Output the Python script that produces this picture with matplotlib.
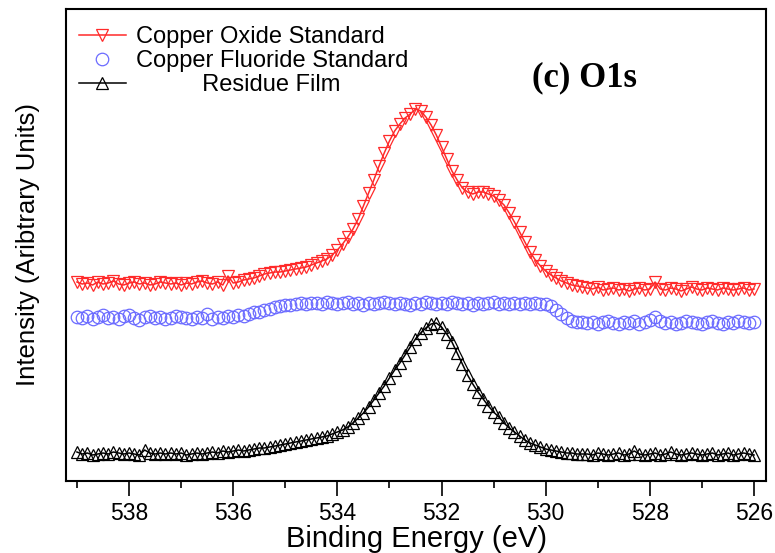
import numpy as np
import matplotlib
matplotlib.use("Agg")
import matplotlib.pyplot as plt
from matplotlib.ticker import MultipleLocator

plt.rcParams['font.family'] = ['Liberation Sans', 'DejaVu Sans']

# Binding energy grid (eV), 0.1 eV steps from 539.0 down to 526.0
energy_start = 539.0
energy_stop = 526.0

copper_oxide = [
    199, 197, 198, 196, 199, 197, 198, 200, 197, 196,
    198, 199, 197, 198, 196, 197, 199, 198, 197, 198,
    196, 198, 197, 199, 200, 198, 197, 199, 196, 205,
    198, 199, 201, 202, 203,
    205, 207, 208, 209, 209, 210, 211, 212, 213, 214, 216,
    218, 220, 222, 226, 231, 237, 244, 252, 262, 275,
    288, 301, 315, 328, 340, 350, 357, 363, 367, 372,
    370, 364, 356, 346, 334, 322, 310, 301, 293, 289,
    287, 289, 289, 287, 285, 281, 276, 268, 259, 249,
    239, 229, 221, 215, 210, 206, 203, 200, 198, 196,
    195, 194,
    193, 192, 194, 191, 192, 193, 191, 192, 190, 192,
    193, 191, 192, 199, 192, 191, 193, 192, 190, 192,
    194, 192, 191, 193, 192, 191, 193, 192, 191, 192,
    193, 191, 192,
]

copper_fluoride = [
    164, 163, 165, 162, 164, 166, 163, 164, 162, 165,
    166, 163, 161, 164, 165, 163, 164, 162, 163, 165,
    164, 163, 162, 164, 163, 167, 162, 164, 163, 165,
    164, 166, 165, 167, 169,
    169, 171, 172, 174, 175, 176, 176, 177, 178, 177, 178,
    178, 177, 179, 178, 177, 178, 179, 177, 178, 176,
    178, 177, 178, 179, 178, 177, 178, 177, 176, 178,
    177, 179, 178, 177, 178, 177, 179, 178, 177, 178,
    176, 178, 177, 178, 179, 177, 178, 177, 178, 177,
    178, 177, 178, 177, 177, 175, 171, 167, 163, 160,
    159, 159,
    158, 159, 157, 159, 160, 158, 157, 159, 158, 160,
    157, 159, 161, 164, 160, 158, 159, 157, 158, 160,
    159, 158, 157, 159, 160, 158, 157, 159, 158, 160,
    159, 158, 159,
]

residue_film = [
    29, 27, 28, 26, 27, 28, 27, 29, 28, 27,
    28, 27, 26, 31, 28, 27, 28, 27, 28, 27,
    28, 26, 27, 28, 27, 28, 29, 28, 30, 29,
    30, 31, 30, 31, 32,
    33, 33, 34, 35, 36, 37, 38, 39, 40, 41, 42,
    43, 44, 45, 47, 49, 51, 54, 58, 63, 68,
    74, 81, 88, 95, 103, 111, 118, 126, 134, 142,
    148, 153, 157, 158, 154, 147, 139, 128, 117, 106,
    97, 89, 82, 75, 69, 64, 58, 53, 49, 45,
    41, 38, 36, 34, 32, 31, 30, 29, 28, 28,
    27, 27,
    27, 26, 28, 27, 26, 27, 28, 26, 27, 30,
    27, 26, 27, 28, 26, 27, 29, 27, 26, 27,
    28, 27, 26, 27, 28, 26, 27, 28, 26, 27,
    28, 27, 26,
]

labels = ["Copper Oxide Standard", "Copper Fluoride Standard",
          "          Residue Film"]
x_ticks = [538, 536, 534, 532, 530, 528, 526]

energy = np.linspace(energy_start, energy_stop, len(copper_oxide))

fig = plt.figure(figsize=(7.75, 5.53), dpi=100)
ax = fig.add_axes([66/775, 72/553, 700/775, 472/553])

red = '#ff2a2a'
blue = '#6b6bff'

ax.plot(energy, copper_oxide, color=red, lw=1.1, marker='v', ms=9,
        mfc='none', mec=red, mew=0.9, label=labels[0])
ax.plot(energy, copper_fluoride, color=blue, lw=0, marker='o', ms=9,
        mfc='none', mec=blue, mew=0.9, label=labels[1])
ax.plot(energy, residue_film, color='black', lw=1.1, marker='^', ms=9,
        mfc='none', mec='black', mew=0.9, label=labels[2])

ax.set_xlim(539.21, 525.77)
ax.set_ylim(0, 472)
ax.set_yticks([])
ax.set_xticks(x_ticks)
ax.xaxis.set_minor_locator(MultipleLocator(1))
ax.tick_params(axis='x', which='major', direction='out', length=11, width=1.2,
               labelsize=16.5, pad=4)
ax.tick_params(axis='x', which='minor', direction='out', length=5, width=1.2)
for s in ax.spines.values():
    s.set_linewidth(1.5)

ax.set_xlabel("Binding Energy (eV)", fontsize=21, labelpad=0)
ax.set_ylabel("Intensity (Aribtrary Units)", fontsize=18.5, labelpad=19)

ax.text(0.665, 0.854, "(c) O1s", transform=ax.transAxes,
        fontsize=25, fontweight='bold', family='Liberation Serif',
        ha='left', va='center')

leg = ax.legend(loc='upper left', bbox_to_anchor=(0.018, 0.963), frameon=False,
                fontsize=17, handlelength=2.0, handletextpad=0.45,
                labelspacing=0.07, borderaxespad=0, borderpad=0)

fig.savefig("out.png", dpi=100)
